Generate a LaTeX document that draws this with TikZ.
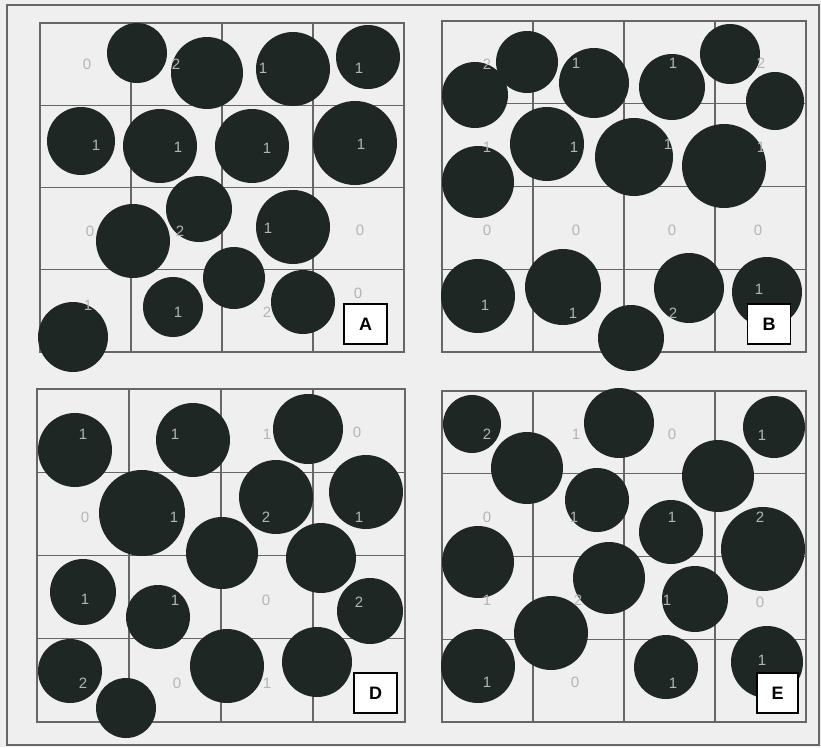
\documentclass[tikz,border=0pt]{standalone}
\usepackage{fontspec}
\setmainfont{Liberation Sans}
\definecolor{bg}{HTML}{EEEFEE}
\definecolor{ballc}{HTML}{1F2725}
\definecolor{gridc}{HTML}{666666}
\definecolor{labc}{HTML}{B4B4B4}
\tikzset{
  ball/.style={circle, fill=ballc, draw=none, inner sep=0pt, outer sep=0pt},
  lab/.style={text=labc, font=\fontsize{15}{15}\selectfont, inner sep=0pt},
  letterbox/.style={draw=black, line width=1.1pt, fill=white, minimum width=43pt, minimum height=40pt, inner sep=0pt, font=\fontsize{18}{18}\selectfont\bfseries},
  gridline/.style={draw=gridc, line width=1.1pt}
}
\newcommand{\panelgrid}[4]{%
  \draw[gridline] (#1,#2) rectangle (#3,#4);
  \foreach \k in {1,2,3} {
    \draw[gridline] ({#1+\k*(#3-#1)/4},#2) -- ({#1+\k*(#3-#1)/4},#4);
    \draw[gridline] (#1,{#2+\k*(#4-#2)/4}) -- (#3,{#2+\k*(#4-#2)/4});
  }}
\begin{document}
\begin{tikzpicture}[x=1pt,y=-1pt]
\useasboundingbox (0,0) rectangle (821,747);
\fill[bg] (0,0) rectangle (821,747);
\draw[gridc, line width=1.2pt] (7,5) rectangle (819,745);
% grids
\panelgrid{40}{23}{404}{352}
\panelgrid{442}{21}{806}{352}
\panelgrid{37}{389}{405}{722}
\panelgrid{442}{391}{806}{722}
% Panel A circles
\foreach \x/\y/\r [count=\i] in {137/53/30, 207/73/36, 293/69/37, 368/57/32, 81/141/34, 160/146/37, 252/146/37, 355/143/42, 199/209/33, 133/241/37, 293/227/37, 234/278/31, 173/307/30, 303/302/32, 73/337/35}
  \node[ball, minimum size={2*\r*1pt}] (A\i) at (\x,\y) {};
% Panel B circles
\foreach \x/\y/\r [count=\i] in {527/62/31, 475/95/33, 594/83/35, 672/87/33, 730/54/30, 775/101/29, 478/182/36, 547/144/37, 634/157/39, 724/166/42, 478/296/37, 563/287/38, 689/288/35, 767/292/35, 631/338/33}
  \node[ball, minimum size={2*\r*1pt}] (B\i) at (\x,\y) {};
% Panel D circles
\foreach \x/\y/\r [count=\i] in {75/450/37, 193/440/37, 308/429/35, 142/513/43, 276/497/37, 366/492/37, 222/553/36, 321/558/35, 83/592/33, 158/617/32, 370/611/33, 70/671/32, 227/666/37, 317/662/35, 126/708/30}
  \node[ball, minimum size={2*\r*1pt}] (D\i) at (\x,\y) {};
% Panel E circles
\foreach \x/\y/\r [count=\i] in {472/424/29, 527/468/36, 619/423/35, 774/427/31, 718/476/36, 597/500/32, 671/532/32, 763/549/42, 478/562/36, 609/578/36, 695/599/33, 551/633/37, 478/666/37, 666/667/32, 767/662/36}
  \node[ball, minimum size={2*\r*1pt}] (E\i) at (\x,\y) {};
% Panel A labels
\foreach \x/\y/\t [count=\i] in {87/64/0, 176/64/2, 263/68/1, 359/68/1, 96/145/1, 178/147/1, 267/148/1, 361/144/1, 90/231/0, 180/231/2, 268/228/1, 360/230/0, 88/305/1, 178/312/1, 267/312/2, 358/293/0}
  \node[lab] (LA\i) at (\x,\y) {\t};
% Panel B labels
\foreach \x/\y/\t [count=\i] in {487/64/2, 576/63/1, 673/63/1, 761/63/2, 487/147/1, 574/147/1, 668/144/1, 761/147/1, 487/230/0, 576/230/0, 672/230/0, 758/230/0, 485/305/1, 573/313/1, 673/313/2, 759/289/1}
  \node[lab] (LB\i) at (\x,\y) {\t};
% Panel D labels
\foreach \x/\y/\t [count=\i] in {83/434/1, 175/434/1, 267/434/1, 357/432/0, 85/517/0, 174/517/1, 266/517/2, 359/517/1, 85/599/1, 175/600/1, 266/600/0, 359/602/2, 83/683/2, 177/683/0, 267/683/1}
  \node[lab] (LD\i) at (\x,\y) {\t};
% Panel E labels
\foreach \x/\y/\t [count=\i] in {487/434/2, 576/434/1, 672/434/0, 762/435/1, 487/517/0, 574/517/1, 672/517/1, 760/517/2, 487/600/1, 578/600/2, 667/600/1, 760/602/0, 487/682/1, 575/682/0, 673/683/1, 762/660/1}
  \node[lab] (LE\i) at (\x,\y) {\t};
% letter boxes
\node[letterbox] (boxA) at (365.5,324) {A};
\node[letterbox] (boxB) at (769,324) {B};
\node[letterbox] (boxD) at (375.5,693) {D};
\node[letterbox, minimum width=41pt] (boxE) at (777.5,693) {E};
\end{tikzpicture}
\end{document}
